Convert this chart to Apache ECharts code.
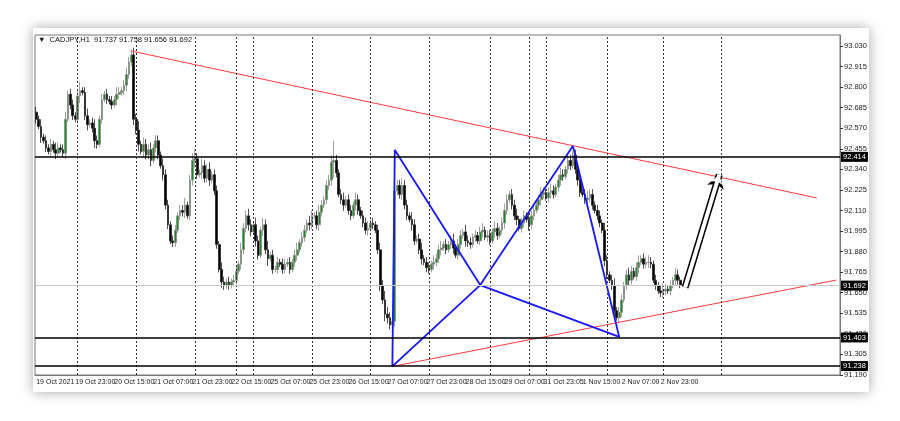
<!DOCTYPE html>
<html><head><meta charset="utf-8">
<script src="https://cdn.jsdelivr.net/npm/echarts@6/dist/echarts.min.js"></script>
<style>html,body{margin:0;padding:0;background:#fff}#wrap{position:absolute;left:33px;top:28px;width:836px;height:364px;box-shadow:0 0 12px rgba(0,0,0,0.35);background:#fff}#c{position:absolute;left:0;top:0;width:900px;height:421px}</style>
</head><body><div id="wrap"></div><div id="c"></div>
<script>
const closes=[92.62,92.58,92.52,92.50,92.46,92.44,92.48,92.45,92.43,92.46,
92.45,92.43,92.62,92.76,92.70,92.64,92.62,92.75,92.78,92.77,
92.64,92.59,92.60,92.57,92.50,92.48,92.62,92.73,92.76,92.73,
92.72,92.70,92.73,92.76,92.77,92.78,92.81,92.87,92.94,92.98,
92.62,92.56,92.48,92.44,92.48,92.42,92.45,92.39,92.46,92.50,
92.42,92.36,92.31,92.14,92.03,91.94,91.93,92.00,92.08,92.11,
92.10,92.14,92.08,92.28,92.39,92.40,92.31,92.32,92.36,92.29,
92.34,92.28,92.31,92.22,91.92,91.78,91.71,91.69,91.71,91.69,
91.71,91.72,91.77,91.81,91.89,92.01,92.08,92.03,91.99,92.03,
91.94,91.86,92.00,92.03,91.89,91.84,91.86,91.78,91.78,91.82,
91.81,91.78,91.81,91.82,91.78,91.82,91.86,91.89,91.93,91.96,
92.00,92.04,92.03,92.08,92.08,92.03,92.10,92.14,92.17,92.25,
92.28,92.38,92.39,92.32,92.20,92.17,92.14,92.17,92.11,92.08,
92.14,92.17,92.11,92.08,92.04,92.00,92.01,92.04,92.03,92.00,
91.89,91.69,91.61,91.53,91.51,91.47,91.49,92.22,92.25,92.20,
92.25,92.14,92.08,92.06,92.03,91.94,91.95,91.89,91.84,91.82,
91.79,91.78,91.81,91.82,91.84,91.89,91.90,91.92,91.89,91.92,
91.94,91.90,91.86,91.92,91.97,91.99,91.94,91.93,91.92,91.96,
91.97,91.94,91.99,92.00,91.96,91.97,91.94,91.99,92.01,91.97,
92.00,92.04,92.11,92.17,92.20,92.14,92.08,92.06,92.01,92.04,
92.08,92.06,92.03,92.08,92.11,92.14,92.17,92.20,92.21,92.18,
92.21,92.22,92.20,92.24,92.28,92.31,92.30,92.34,92.39,92.36,
92.42,92.34,92.28,92.21,92.20,92.17,92.18,92.20,92.14,92.11,
92.08,92.04,92.00,91.83,91.75,91.72,91.69,91.55,91.51,91.54,
91.61,91.69,91.75,91.72,91.77,91.74,91.79,91.82,91.84,91.81,
91.82,91.82,91.81,91.72,91.69,91.66,91.65,91.66,91.67,91.66,
91.69,91.72,91.75,91.72,91.692];
const firstOpen=92.66;
// wick length in hundredths of a yen, per bar
const wicks=[3,2,4,2,3,2,3,2,4,3, 2,3,4,2,3,3,2,3,5,2, 3,4,2,3,5,3,2,3,2,3, 2,3,2,4,3,2,3,4,3,3,
4,3,5,2,4,3,3,4,2,3, 3,2,4,3,3,2,3,3,2,3, 3,4,2,3,4,5,3,2,4,3, 3,4,2,3,3,2,4,3,2,3,
2,3,3,2,4,3,3,4,3,2, 4,3,2,4,3,5,2,3,2,3, 2,3,3,2,3,2,3,4,2,3, 3,2,4,3,2,3,4,3,2,3,
3,4,11,3,2,3,4,2,3,3, 2,4,3,2,3,3,4,2,3,2, 3,4,3,5,4,3,2,4,3,3, 4,3,3,2,4,3,2,3,4,2,
3,3,2,4,3,3,4,2,3,2, 3,4,2,3,3,2,4,3,3,2, 3,2,3,4,2,3,3,2,4,3, 2,3,4,3,2,3,3,4,2,3,
3,2,4,3,3,2,3,4,3,2, 3,4,3,2,3,4,3,2,3,3, 2,3,4,3,2,3,4,3,3,2, 3,3,2,4,3,2,3,4,2,3,
3,2,3,4,3,2,3,4,2,3, 3,4,3,2,3,2,3,4,3,2, 3,2,4,3,2];
const tickLabels=["19 Oct 2021","19 Oct 23:00","20 Oct 15:00","21 Oct 07:00","21 Oct 23:00","22 Oct 15:00","25 Oct 07:00","25 Oct 23:00","26 Oct 15:00","27 Oct 07:00","27 Oct 23:00","28 Oct 15:00","29 Oct 07:00","31 Oct 23:05","1 Nov 15:00","2 Nov 07:00","2 Nov 23:00"];
const priceTicks=[93.030,92.915,92.800,92.685,92.570,92.455,92.340,92.225,92.110,91.995,91.880,91.765,91.650,91.535,91.420,91.305,91.190];
const levels=[92.414,91.403,91.238];
const currentPrice=91.692;
const separators=[17,41,65,82,89,113,137,161,186,202,209,234,257,281];
const upperTrend=[[39,93.002],[320,92.18]];
const lowerTrend=[[146,91.238],[328,91.721]];
const pattern=[[146,91.238],[147,92.448],[182,91.693],[220,92.471],[239,91.403],[182,91.693],[146,91.238]];
const arrowPts=[[266,91.68],[280,92.31]];
const totalSlots=330;

const cats=[];for(let i=0;i<totalSlots;i++){cats.push(i%16===0&&tickLabels[i/16]?tickLabels[i/16]:'')}
const ohlc=closes.map((c,i)=>{const o=i?closes[i-1]:firstOpen;const w=wicks[i]/100;return [o,c,Math.min(o,c)-w*0.8,Math.max(o,c)+w];});
const showIdx=(i)=>i%16===0&&i<=256;

const chart=echarts.init(document.getElementById('c'));
const font='Liberation Sans';
const tag=(v,color)=>({yAxis:v,name:v.toFixed(3),lineStyle:{color:color,width:color==='#000'?1.5:1,type:'solid'}});
chart.setOption({
animation:false,
grid:{left:35,right:60,top:35,bottom:46},
xAxis:{type:'category',data:cats,boundaryGap:true,
 axisLine:{lineStyle:{color:'#777'}},
 axisTick:{interval:showIdx,length:3,lineStyle:{color:'#333'}},
 axisLabel:{interval:0,hideOverlap:false,fontSize:7,fontFamily:font,color:'#222',align:'left',margin:4},
 splitLine:{show:false}},
yAxis:{type:'value',position:'right',min:91.19,max:93.0915,
 axisLine:{show:true,lineStyle:{color:'#777'}},
 axisTick:{show:true,customValues:priceTicks,length:3,lineStyle:{color:'#333'}},
 axisLabel:{customValues:priceTicks,fontSize:7.5,fontFamily:font,color:'#222',formatter:v=>v.toFixed(3),margin:4},
 splitLine:{show:false}},
series:[
 {type:'line',data:[],markLine:{silent:true,symbol:'none',label:{show:false},lineStyle:{color:'#333',type:[2,2],width:1},data:separators.map(s=>({xAxis:s}))}},
 {type:'candlestick',data:ohlc,barWidth:2.2,
  itemStyle:{color:'#1d8a1d',color0:'#000',borderColor:'#8a8a8a',borderColor0:'#222',borderWidth:0.8},
  markLine:{silent:true,symbol:'none',animation:false,
   data:[tag(currentPrice,'#c8c8c8'),...levels.map(l=>tag(l,'#000'))],
   label:{show:true,position:'end',formatter:p=>p.name,backgroundColor:'#000',color:'#fff',fontSize:7.5,fontFamily:font,padding:[1,2],distance:1}}},
 {type:'line',data:upperTrend,showSymbol:false,lineStyle:{color:'#ff3b3b',width:1}},
 {type:'line',data:lowerTrend,showSymbol:false,lineStyle:{color:'#ff3b3b',width:1}},
 {type:'line',data:pattern,showSymbol:false,lineStyle:{color:'#1616ff',width:1.8}},
 {type:'line',data:[],markLine:{silent:true,symbol:['none','arrow'],symbolSize:13,label:{show:false},
   data:[[{coord:arrowPts[0],lineStyle:{color:'#000',width:7,type:'solid'}},{coord:arrowPts[1]}]]}},
 {type:'line',data:[],markLine:{silent:true,symbol:['none','arrow'],symbolSize:9,label:{show:false},
   data:[[{coord:arrowPts[0],lineStyle:{color:'#fff',width:4,type:'solid'}},{coord:arrowPts[1]}]]}}
],
graphic:[
 {type:'rect',shape:{x:35,y:35,width:805,height:340},style:{fill:'none',stroke:'#777',lineWidth:1},silent:true},
 {type:'text',left:38,top:36,style:{text:'▼  CADJPY,H1  91.737 91.758 91.656 91.692',font:'7.5px Liberation Sans',fill:'#111'}}
]
});
</script></body></html>
